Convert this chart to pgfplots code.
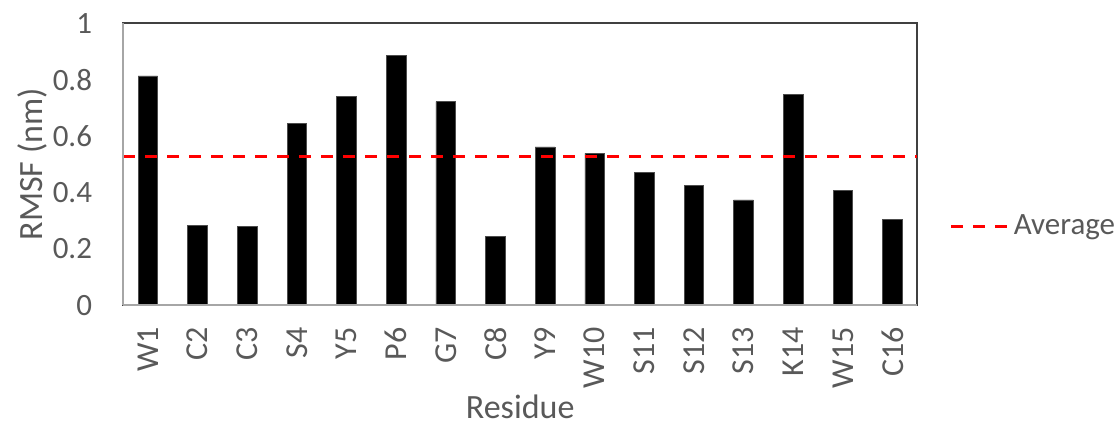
\documentclass[border=0pt]{standalone}
\usepackage{pgfplots}
\pgfplotsset{compat=1.18}
\usepackage{fontspec}
\setmainfont{Carlito}
\definecolor{txtgray}{HTML}{595959}
\definecolor{axgray}{HTML}{A6A6A6}
\definecolor{boxgray}{HTML}{404040}
\begin{document}
\begin{tikzpicture}
\begin{axis}[
  scale only axis,
  width=397pt, height=141pt,
  xmin=0.5, xmax=16.5,
  ymin=0, ymax=1,
  clip=false,
  xtick={1,...,16},
  xticklabels={W1,C2,C3,S4,Y5,P6,G7,C8,Y9,W10,S11,S12,S13,K14,W15,C16},
  x tick label style={rotate=90, anchor=east, font=\fontsize{16}{17}\selectfont, text=txtgray, xshift=-7.5pt},
  ytick={0,0.2,0.4,0.6,0.8,1},
  y tick label style={font=\fontsize{15.5}{16}\selectfont, text=txtgray, xshift=-12pt},
  /pgf/number format/assume math mode=true,
  major tick length=0pt,
  axis line style={boxgray, line width=0.8pt},
  xlabel={Residue}, ylabel={RMSF (nm)},
  label style={font=\fontsize{17}{18}\selectfont, text=txtgray},
  xlabel style={yshift=1pt, inner sep=1pt},
  ylabel style={yshift=-4pt},
  legend style={at={(rel axis cs:1.033,0.28)}, anchor=west, draw=none, fill=none,
    font=\fontsize{15.5}{16}\selectfont, text=txtgray},
  legend cell align=left,
  legend image code/.code={\draw[#1] (0cm,0cm) -- (1cm,0cm);},
]
\addplot[ybar, bar width=9.8pt, fill=black, draw=black!70, line width=0.3pt, forget plot] coordinates {
(1,0.813) (2,0.282) (3,0.278) (4,0.645) (5,0.740) (6,0.885) (7,0.722) (8,0.243)
(9,0.561) (10,0.538) (11,0.472) (12,0.425) (13,0.373) (14,0.747) (15,0.406) (16,0.304)
};
\addplot[red, line width=1.5pt, dash pattern=on 6pt off 5pt] coordinates {(0.5,0.527) (16.5,0.527)};
\addlegendentry{Average}
\draw[axgray, line width=1pt] (rel axis cs:0,0) -- (rel axis cs:1,0);
\draw[axgray, line width=1pt] (rel axis cs:0,0) -- (rel axis cs:0,1);
\coordinate (bbsw) at (rel axis cs:-0.155,-0.428);
\coordinate (bbne) at (rel axis cs:1.249,1.082);
\end{axis}
\pgfresetboundingbox
\path[use as bounding box] (bbsw) rectangle (bbne);
\end{tikzpicture}
\end{document}
